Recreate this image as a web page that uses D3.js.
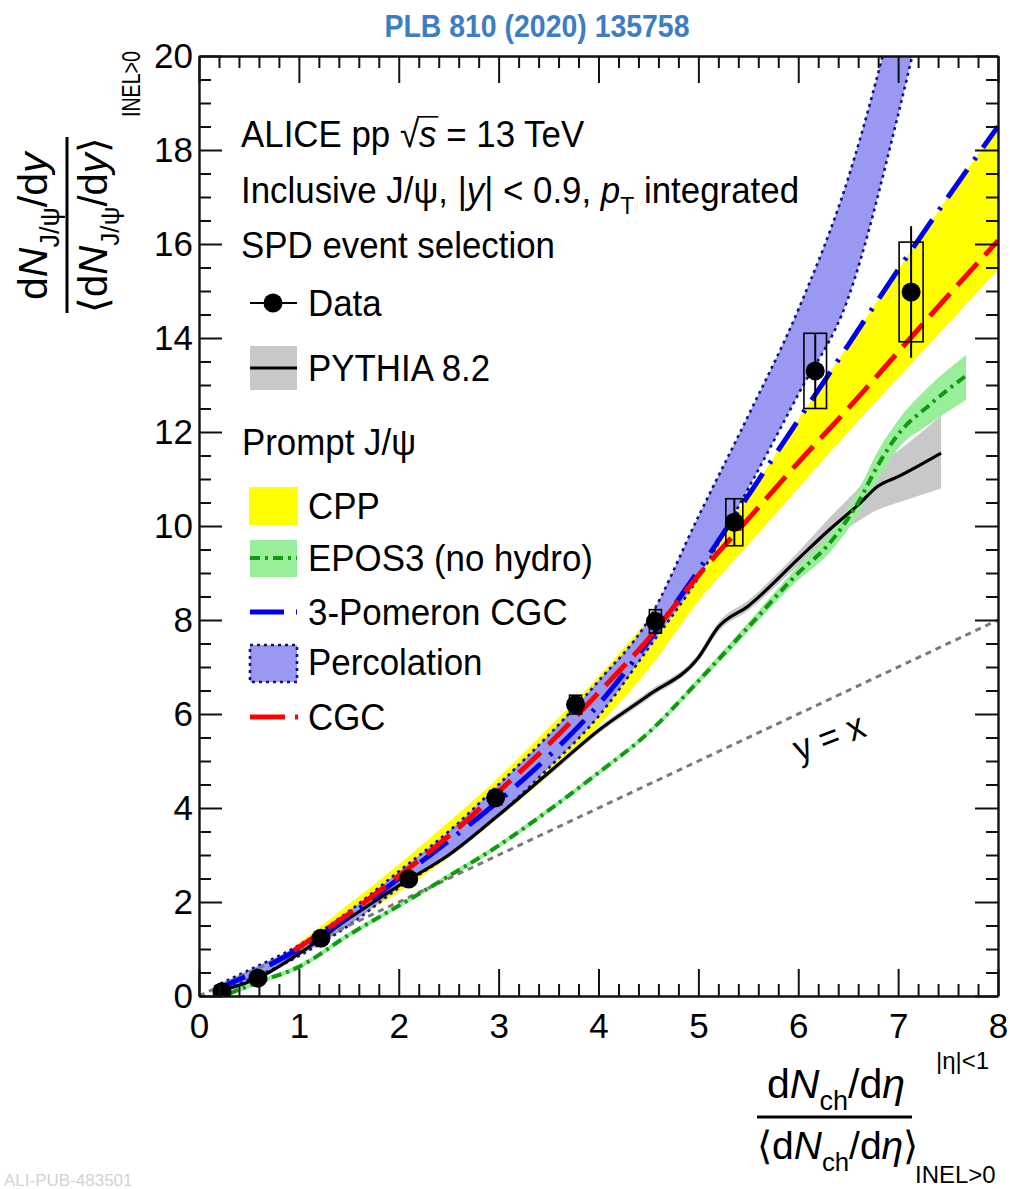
<!DOCTYPE html>
<html>
<head>
<meta charset="utf-8">
<script src="https://cdn.jsdelivr.net/npm/d3@7"></script>
<style>
  body { margin: 0; background: #fff; }
  svg { display: block; }
  text { font-family: "Liberation Sans", Arial, Helvetica, sans-serif; fill: #000; }
</style>
</head>
<body>
<svg id="chart" width="1010" height="1189"></svg>
<script>
// ---- axis ticks ----
const xTicks = [0, 1, 2, 3, 4, 5, 6, 7, 8];
const yTicks = [0, 2, 4, 6, 8, 10, 12, 14, 16, 18, 20];

// ---- ALICE inclusive J/psi data ----
const dataX = [0.23, 0.59, 1.22, 2.10, 2.97, 3.77, 4.57, 5.36, 6.17, 7.13];
const dataY = [0.09, 0.38, 1.23, 2.49, 4.22, 6.20, 7.97, 10.08, 13.30, 14.98];
const dataStat = [0.03, 0.04, 0.06, 0.10, 0.15, 0.20, 0.28, 0.50, 0.80, 1.40];
const dataSys = [0.04, 0.05, 0.08, 0.12, 0.15, 0.20, 0.25, 0.50, 0.80, 1.06];
const dataSysX = [0.05, 0.05, 0.05, 0.05, 0.06, 0.06, 0.06, 0.085, 0.113, 0.12];

// ---- PYTHIA 8.2 ----
const pyX = [0.2, 0.6, 1.0, 1.5, 2.0, 2.5, 3.0, 3.5, 4.0, 4.5, 5.0, 5.2, 5.5, 6.0, 6.3, 6.6, 6.8, 7.0, 7.43];
const pyY = [0.1, 0.39, 0.9, 1.65, 2.35, 3.0, 3.85, 4.75, 5.65, 6.4, 7.2, 7.85, 8.3, 9.3, 9.9, 10.45, 10.85, 11.05, 11.55];
const pyHigh = [0.14, 0.43, 0.95, 1.7, 2.4, 3.06, 3.91, 4.82, 5.72, 6.48, 7.28, 7.95, 8.42, 9.45, 10.15, 10.8, 11.3, 11.6, 12.35];
const pyLow = [0.06, 0.35, 0.85, 1.6, 2.3, 2.94, 3.79, 4.68, 5.58, 6.32, 7.12, 7.75, 8.2, 9.15, 9.65, 10.1, 10.35, 10.5, 10.8];

// ---- EPOS3 (no hydro) ----
const epoX = [0.3, 0.6, 1.0, 1.5, 2.0, 2.5, 3.0, 3.5, 4.0, 4.5, 5.0, 5.5, 6.0, 6.3, 6.6, 6.8, 7.0, 7.3, 7.68];
const epoY = [0.05, 0.3, 0.62, 1.3, 1.92, 2.55, 3.2, 3.95, 4.75, 5.6, 6.7, 7.85, 9.0, 9.6, 10.5, 11.3, 11.95, 12.55, 13.2];
const epoHigh = [0.1, 0.35, 0.67, 1.35, 1.97, 2.6, 3.25, 4.0, 4.8, 5.65, 6.77, 7.95, 9.15, 9.8, 10.75, 11.6, 12.25, 12.95, 13.64];
const epoLow = [0.0, 0.25, 0.57, 1.25, 1.87, 2.5, 3.15, 3.9, 4.7, 5.55, 6.63, 7.75, 8.85, 9.4, 10.25, 11.0, 11.65, 12.15, 12.68];

// ---- CPP ----
const cppX = [1.0, 1.5, 2.0, 2.5, 3.0, 3.5, 4.0, 4.5, 5.0, 5.5, 6.0, 6.5, 7.0, 7.5, 8.0];
const cppHigh = [1.12, 1.95, 2.8, 3.7, 4.65, 5.7, 6.8, 8.0, 9.15, 10.65, 12.25, 13.85, 15.45, 17.0, 18.5];
const cppLow = [0.95, 1.55, 2.2, 2.95, 3.8, 4.7, 5.75, 6.95, 8.4, 9.6, 10.8, 12.0, 13.15, 14.3, 15.45];

// ---- Percolation ----
const percX = [0.15, 0.5, 1.0, 1.5, 2.0, 2.5, 3.0, 3.5, 4.0, 4.5, 5.0, 5.5, 6.0, 6.5, 7.0, 7.25];
const percHigh = [0.2, 0.55, 1.08, 1.8, 2.65, 3.5, 4.5, 5.55, 6.7, 8.0, 10.2, 12.35, 14.6, 17.4, 21.3, 23.5];
const percLow = [0.05, 0.35, 0.85, 1.5, 2.3, 3.0, 3.85, 4.85, 5.95, 7.4, 8.9, 10.8, 12.8, 14.85, 18.75, 21.0];

// ---- 3-Pomeron CGC ----
const pomX = [0.15, 0.5, 1.0, 1.5, 2.0, 2.5, 3.0, 3.5, 4.0, 4.5, 5.0, 5.5, 6.0, 6.5, 7.0, 7.5, 8.0];
const pomY = [0.12, 0.45, 1.0, 1.7, 2.5, 3.3, 4.15, 5.1, 6.2, 7.55, 9.05, 10.65, 12.25, 13.85, 15.45, 17.0, 18.5];

// ---- CGC ----
const cgcX = [0.95, 1.5, 2.0, 2.5, 3.0, 3.5, 4.0, 4.5, 5.0, 5.5, 6.0, 6.5, 7.0, 7.5, 8.0];
const cgcY = [0.97, 1.75, 2.55, 3.4, 4.35, 5.35, 6.45, 7.6, 8.95, 10.15, 11.35, 12.5, 13.7, 14.9, 16.07];

// ---- y = x reference ----
const diagX = [0, 8];

const svg = d3.select("#chart");
const x = d3.scaleLinear().domain([0, 8]).range([199, 998]);
const y = d3.scaleLinear().domain([0, 20]).range([996, 56]);

svg.append("defs").append("clipPath").attr("id", "plotclip")
  .append("rect").attr("x", x(0)).attr("y", y(20))
  .attr("width", x(8) - x(0)).attr("height", y(0) - y(20));

const plot = svg.append("g").attr("clip-path", "url(#plotclip)");

function band(xs, hi, lo) {
  return d3.area().curve(d3.curveMonotoneX)
    .x((d, i) => x(xs[i])).y0((d, i) => y(lo[i])).y1((d, i) => y(hi[i]))(xs);
}
function curve(xs, ys) {
  return d3.line().curve(d3.curveMonotoneX)
    .x((d, i) => x(xs[i])).y((d, i) => y(ys[i]))(xs);
}

// bands
plot.append("path").attr("d", band(pyX, pyHigh, pyLow)).attr("fill", "#c8c8c8");
plot.append("path").attr("d", band(epoX, epoHigh, epoLow)).attr("fill", "#99ee99");
plot.append("path").attr("d", band(cppX, cppHigh, cppLow)).attr("fill", "#ffff00");
plot.append("path").attr("d", band(percX, percHigh, percLow)).attr("fill", "#9999f2");
[percHigh, percLow].forEach(edge => {
  plot.append("path").attr("d", curve(percX, edge)).attr("fill", "none")
    .attr("stroke", "#10108a").attr("stroke-width", 2.6).attr("stroke-dasharray", "3,4");
});

// y = x
plot.append("path").attr("d", curve(diagX, diagX)).attr("fill", "none")
  .attr("stroke", "#7a7a7a").attr("stroke-width", 3).attr("stroke-dasharray", "6,5");

// model curves
plot.append("path").attr("d", curve(pyX, pyY)).attr("fill", "none")
  .attr("stroke", "#000").attr("stroke-width", 3.2);
plot.append("path").attr("d", curve(epoX, epoY)).attr("fill", "none")
  .attr("stroke", "#129912").attr("stroke-width", 4).attr("stroke-dasharray", "10,5,3,5");
plot.append("path").attr("d", curve(pomX, pomY)).attr("fill", "none")
  .attr("stroke", "#0000ee").attr("stroke-width", 5).attr("stroke-dasharray", "34,12,3,12");
plot.append("path").attr("d", curve(cgcX, cgcY)).attr("fill", "none")
  .attr("stroke", "#ff0000").attr("stroke-width", 5).attr("stroke-dasharray", "30,11");

// data: systematic boxes, statistical bars, markers
const pts = dataX.map((d, i) => i);
plot.selectAll("rect.sys").data(pts).join("rect").attr("class", "sys")
  .attr("x", i => x(dataX[i] - dataSysX[i])).attr("width", i => x(dataX[i] + dataSysX[i]) - x(dataX[i] - dataSysX[i]))
  .attr("y", i => y(dataY[i] + dataSys[i])).attr("height", i => y(dataY[i] - dataSys[i]) - y(dataY[i] + dataSys[i]))
  .attr("fill", "none").attr("stroke", "#000").attr("stroke-width", 1.6);
plot.selectAll("line.stat").data(pts).join("line").attr("class", "stat")
  .attr("x1", i => x(dataX[i])).attr("x2", i => x(dataX[i]))
  .attr("y1", i => y(dataY[i] + dataStat[i])).attr("y2", i => y(dataY[i] - dataStat[i]))
  .attr("stroke", "#000").attr("stroke-width", 2);
plot.selectAll("circle.pt").data(pts).join("circle").attr("class", "pt")
  .attr("cx", i => x(dataX[i])).attr("cy", i => y(dataY[i])).attr("r", 9.5).attr("fill", "#000");

// axes (ticks pointing inwards, mirrored on top and right)
const xMinor = d3.range(0, 8.0001, 0.2).filter(v => Math.abs(v - Math.round(v)) > 1e-6);
const yMinor = d3.range(0, 20.0001, 0.5).filter(v => Math.abs(v / 2 - Math.round(v / 2)) > 1e-6);
const fontAx = "'Liberation Sans', Arial, Helvetica, sans-serif";

function styleAxis(g) {
  g.attr("font-family", fontAx).attr("font-size", 35);
  g.selectAll("line").attr("stroke", "#111").attr("stroke-width", 2);
  g.selectAll("path.domain").attr("stroke", "#111").attr("stroke-width", 2.4);
  g.selectAll("text").attr("fill", "#000");
}
svg.append("g").attr("transform", `translate(0,${y(0)})`)
  .call(d3.axisBottom(x).tickValues(xTicks).tickSize(-27).tickSizeOuter(0).tickPadding(17).tickFormat(d3.format("d"))).call(styleAxis);
svg.append("g").attr("transform", `translate(0,${y(0)})`)
  .call(d3.axisBottom(x).tickValues(xMinor).tickSize(-12).tickFormat("")).call(styleAxis).select(".domain").remove();
svg.append("g").attr("transform", `translate(0,${y(20)})`)
  .call(d3.axisTop(x).tickValues(xTicks).tickSize(-27).tickSizeOuter(0).tickFormat("")).call(styleAxis);
svg.append("g").attr("transform", `translate(0,${y(20)})`)
  .call(d3.axisTop(x).tickValues(xMinor).tickSize(-12).tickFormat("")).call(styleAxis).select(".domain").remove();
svg.append("g").attr("transform", `translate(${x(0)},0)`)
  .call(d3.axisLeft(y).tickValues(yTicks).tickSize(-23).tickSizeOuter(0).tickPadding(6).tickFormat(d3.format("d"))).call(styleAxis);
svg.append("g").attr("transform", `translate(${x(0)},0)`)
  .call(d3.axisLeft(y).tickValues(yMinor).tickSize(-12).tickFormat("")).call(styleAxis).select(".domain").remove();
svg.append("g").attr("transform", `translate(${x(8)},0)`)
  .call(d3.axisRight(y).tickValues(yTicks).tickSize(-23).tickSizeOuter(0).tickFormat("")).call(styleAxis);
svg.append("g").attr("transform", `translate(${x(8)},0)`)
  .call(d3.axisRight(y).tickValues(yMinor).tickSize(-12).tickFormat("")).call(styleAxis).select(".domain").remove();

// rich text helper: parts with italic / subscript / superscript, optional horizontal squeeze
function rich(parent, px, py, parts, size, sx) {
  const holder = parent.append("g").attr("transform", `translate(${px},${py}) scale(${sx || 1},1)`);
  const t = holder.append("text").attr("x", 0).attr("y", 0).attr("font-size", size);
  let shift = 0;
  parts.forEach(p => {
    const target = p.sub ? size * 0.3 : (p.sup ? -size * 0.42 : 0);
    const s = t.append("tspan").text(p.t).attr("dy", target - shift);
    shift = target;
    if (p.sub || p.sup) s.attr("font-size", size * (p.scale || 0.66));
    if (p.i) s.attr("font-style", "italic");
  });
  return t;
}
const TS = 37.5, SQ = 0.93;
function label(parent, px, py, str) { return rich(parent, px, py, [{ t: str }], TS, SQ); }

// y-axis title
const yTitle = svg.append("g");
rich(yTitle.append("g").attr("transform", "translate(47,300) rotate(-90)"), 0, 0,
  [{ t: "d" }, { t: "N", i: true }, { t: "J/\u03c8", sub: true }, { t: "/d" }, { t: "y", i: true }], 41);
yTitle.append("line").attr("x1", 67).attr("x2", 67).attr("y1", 137).attr("y2", 313)
  .attr("stroke", "#000").attr("stroke-width", 3);
rich(yTitle.append("g").attr("transform", "translate(107,313) rotate(-90)"), 0, 0,
  [{ t: "\u27e8d" }, { t: "N", i: true }, { t: "J/\u03c8", sub: true }, { t: "/d" }, { t: "y", i: true }, { t: "\u27e9" }], 40);
yTitle.append("g").attr("transform", "translate(140,117) rotate(-90)").append("text")
  .attr("font-size", 26).attr("textLength", 66).attr("lengthAdjust", "spacingAndGlyphs").text("INEL>0");

// x-axis title
const xTitle = svg.append("g");
rich(xTitle, 767, 1098, [{ t: "d" }, { t: "N", i: true }, { t: "ch", sub: true }, { t: "/d" }, { t: "\u03b7", i: true }], 41);
xTitle.append("text").attr("x", 936).attr("y", 1069).attr("font-size", 24).text("|\u03b7|<1");
xTitle.append("line").attr("x1", 757).attr("x2", 912).attr("y1", 1117).attr("y2", 1117)
  .attr("stroke", "#000").attr("stroke-width", 3);
rich(xTitle, 757, 1159, [{ t: "\u27e8d" }, { t: "N", i: true }, { t: "ch", sub: true }, { t: "/d" }, { t: "\u03b7", i: true }, { t: "\u27e9" }], 39);
xTitle.append("text").attr("x", 915).attr("y", 1183).attr("font-size", 24).text("INEL>0");

// header text
const hdr = svg.append("g");
const l1 = rich(hdr, 241, 147, [{ t: "ALICE pp " }, { t: "\u221a" }, { t: "s", i: true }, { t: " = 13 TeV" }], TS, SQ);
{
  const node = l1.node();
  const idx = "ALICE pp ".length;
  const r = node.getExtentOfChar(idx);
  const rs = node.getExtentOfChar(idx + 1);
  d3.select(node.parentNode).append("line").attr("x1", r.x + r.width - 2).attr("x2", rs.x + rs.width + 2)
    .attr("y1", r.y + 4).attr("y2", r.y + 4).attr("stroke", "#000").attr("stroke-width", 1.6);
}
rich(hdr, 241, 203, [{ t: "Inclusive J/\u03c8, |" }, { t: "y", i: true }, { t: "| < 0.9, " },
  { t: "p", i: true }, { t: "T", sub: true }, { t: " integrated" }], TS, SQ);
label(hdr, 241, 258, "SPD event selection");

// legend
const leg = svg.append("g");
leg.append("line").attr("x1", 250).attr("x2", 297).attr("y1", 303).attr("y2", 303).attr("stroke", "#000").attr("stroke-width", 2);
leg.append("circle").attr("cx", 273).attr("cy", 303).attr("r", 9.5).attr("fill", "#000");
label(leg, 308, 316, "Data");

leg.append("rect").attr("x", 250).attr("y", 346).attr("width", 47).attr("height", 44).attr("fill", "#c8c8c8");
leg.append("line").attr("x1", 250).attr("x2", 297).attr("y1", 368).attr("y2", 368).attr("stroke", "#000").attr("stroke-width", 3.2);
label(leg, 308, 381, "PYTHIA 8.2");

label(leg, 242, 455, "Prompt J/\u03c8");

leg.append("rect").attr("x", 249).attr("y", 487).attr("width", 49).attr("height", 38).attr("fill", "#ffff00");
label(leg, 308, 519, "CPP");

leg.append("rect").attr("x", 250).attr("y", 540).attr("width", 47).attr("height", 37).attr("fill", "#99ee99");
leg.append("line").attr("x1", 250).attr("x2", 297).attr("y1", 558).attr("y2", 558).attr("stroke", "#129912")
  .attr("stroke-width", 4).attr("stroke-dasharray", "10,5,3,5");
label(leg, 308, 571, "EPOS3 (no hydro)");

leg.append("line").attr("x1", 250).attr("x2", 297).attr("y1", 612).attr("y2", 612).attr("stroke", "#0000ee")
  .attr("stroke-width", 5).attr("stroke-dasharray", "34,12,3,12");
label(leg, 308, 625, "3-Pomeron CGC");

leg.append("rect").attr("x", 250).attr("y", 645).attr("width", 47).attr("height", 37).attr("fill", "#9999f2")
  .attr("stroke", "#10108a").attr("stroke-width", 2.6).attr("stroke-dasharray", "3,4");
label(leg, 308, 675, "Percolation");

leg.append("line").attr("x1", 250).attr("x2", 298).attr("y1", 717).attr("y2", 717).attr("stroke", "#ff0000")
  .attr("stroke-width", 5).attr("stroke-dasharray", "35,10");
label(leg, 308, 730, "CGC");

// y = x label
svg.append("g").attr("transform", "translate(799,762) rotate(-21) scale(0.93,1)")
  .append("text").attr("font-size", 37).text("y = x");

// publication reference
svg.append("text").attr("x", 537).attr("y", 37).attr("text-anchor", "middle")
  .attr("font-family", "'Open Sans', 'Noto Sans', sans-serif").attr("font-weight", 700).attr("font-size", 31)
  .attr("textLength", 305).attr("lengthAdjust", "spacingAndGlyphs")
  .style("fill", "#3c7dc4").text("PLB 810 (2020) 135758");

svg.append("text").attr("x", 4).attr("y", 1186).attr("font-size", 17).style("fill", "#d2d2d2").text("ALI-PUB-483501");
</script>
</body>
</html>
